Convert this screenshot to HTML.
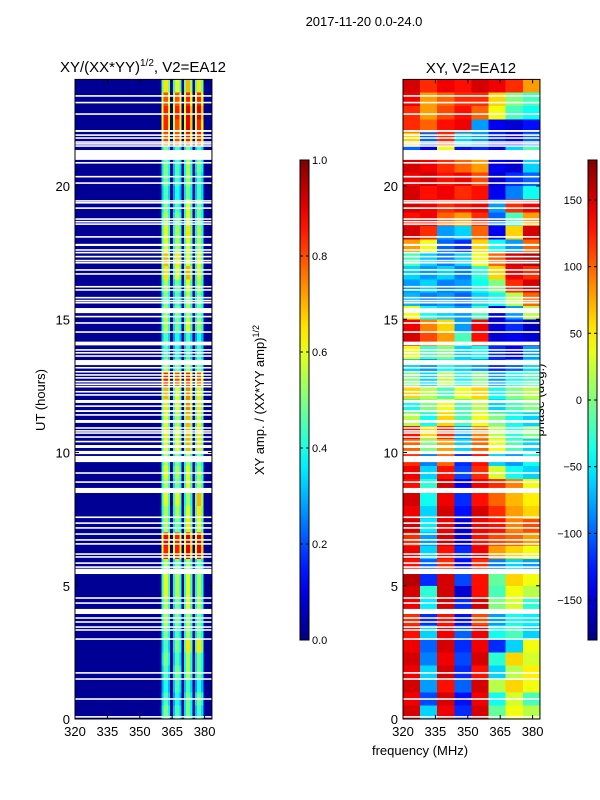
<!DOCTYPE html>
<html><head><meta charset="utf-8">
<style>
body{margin:0;background:#fff;}
svg{display:block;font-family:"Liberation Sans",sans-serif;}
</style></head>
<body>
<svg id="fig" width="600" height="800" viewBox="0 0 600 800">
<text x="364" y="26" font-size="13" text-anchor="middle">2017-11-20 0.0-24.0</text>
<text x="143" y="72" font-size="15" text-anchor="middle">XY/(XX*YY)<tspan font-size="10" dy="-6">1/2</tspan><tspan dy="6">, V2=EA12</tspan></text>
<text x="471" y="73" font-size="15" text-anchor="middle">XY, V2=EA12</text>
<text transform="translate(45,400) rotate(-90)" font-size="13" text-anchor="middle">UT (hours)</text>
<text transform="translate(264,400) rotate(-90)" font-size="13" text-anchor="middle">XY amp. / (XX*YY amp)<tspan font-size="9" dy="-5">1/2</tspan></text>
<text transform="translate(544,400) rotate(-90)" font-size="13" text-anchor="middle">phase (deg.)</text>
<text x="420" y="755" font-size="13" text-anchor="middle">frequency (MHz)</text>
<g id="left"></g>
<g id="right"></g>
<g id="cb1"></g>
<g id="cb2"></g>
</svg>
<script>
// ---- data ----
const bandEdges = [[360.1,364],[365.4,369.3],[370.4,374.3],[375.5,379.4]];
const ampRows = [
[0.5,0.45,0.5,0.45],[0.45,0.4,0.5,0.5],[0.4,0.45,0.45,0.4],[0.45,0.5,0.55,0.5],[0.5,0.45,0.55,0.5],[0.45,0.5,0.65,0.65],
[0.5,0.45,0.55,0.5],[0.55,0.5,0.55,0.5],[0.55,0.5,0.6,0.55],[0.6,0.55,0.6,0.55],[0.6,0.55,0.6,0.55],[0.55,0.5,0.55,0.5],
[0.85,0.85,0.9,0.9],[0.88,0.85,0.9,0.9],[0.55,0.5,0.65,0.6],[0.55,0.55,0.6,0.65],[0.6,0.6,0.55,0.7],[0.55,0.5,0.6,0.55],
[0.6,0.55,0.6,0.55],[0.55,0.5,0.55,0.5],[0.6,0.6,0.7,0.65],[0.65,0.6,0.7,0.65],[0.6,0.55,0.7,0.6],[0.65,0.6,0.75,0.65],
[0.7,0.6,0.75,0.65],[0.85,0.8,0.85,0.8],[0.55,0.5,0.55,0.5],[0.45,0.4,0.45,0.45],[0.45,0.4,0.45,0.4],[0.55,0.5,0.6,0.55],
[0.55,0.5,0.55,0.5],[0.5,0.45,0.55,0.5],[0.55,0.5,0.6,0.55],[0.65,0.6,0.7,0.6],[0.7,0.65,0.6,0.6],[0.6,0.55,0.6,0.55],
[0.6,0.55,0.65,0.55],[0.55,0.5,0.6,0.5],[0.5,0.45,0.6,0.5],[0.45,0.4,0.5,0.45],[0.5,0.45,0.55,0.45],[0.5,0.45,0.55,0.5],
[0.5,0.45,0.5,0.45],[0.8,0.8,0.85,0.85],[0.85,0.8,0.9,0.85],[0.85,0.85,0.9,0.9],[0.8,0.8,0.85,0.85],[0.65,0.6,0.7,0.65]
];
const phaseRows = [
[150,-60,140,-120,150,-10,40,20],[140,-110,150,-130,140,-40,30,-20],[150,-80,130,-100,150,20,60,40],[140,-60,150,-120,130,-60,20,50],
[150,-90,140,-110,150,-30,60,30],[140,-100,150,-120,140,-120,-60,40],[130,-60,140,-100,140,-40,-20,-60],[120,-120,130,-130,110,-80,-40,-50],
[140,-50,150,-120,150,0,30,-30],[150,-30,150,-150,130,-20,40,20],[160,-120,150,-110,130,-10,60,40],[130,-100,120,-130,120,-90,-60,-80],
[140,-60,130,-120,140,80,60,40],[120,-80,150,-140,130,110,100,80],[150,-50,140,-150,140,130,90,110],[140,-60,150,-130,150,120,80,60],
[150,-40,140,-120,130,100,70,50],[130,-30,150,-140,140,120,90,40],[140,-60,130,-110,120,30,-40,-60],[120,-90,100,-120,130,-60,-80,-40],
[100,0,80,-60,100,40,-20,-60],[130,60,120,-80,90,20,-30,0],[20,-40,60,-20,40,0,-40,-60],[-40,0,40,-20,20,-60,-20,0],
[60,20,-20,40,60,-40,0,20],[0,-60,20,-40,0,-80,-40,-20],[-60,-80,-40,-60,-80,-120,-100,-60],[40,-20,0,-60,-40,-120,-140,-80],
[150,110,80,-20,130,-150,-140,-150],[140,90,60,-80,140,-150,-120,-160],[40,-40,-60,-80,-20,-150,-80,20],[-70,-90,-80,-100,-60,-40,20,100],
[-80,-60,-90,-80,-40,0,120,150],[-60,-80,-60,-90,-30,60,140,120],[-20,-60,-90,-60,40,100,150,160],[80,40,-100,-120,60,-40,-80,100],
[150,120,-80,-60,100,-140,60,150],[130,140,100,80,120,-100,-20,80],[150,140,120,130,140,-80,120,140],[150,130,140,120,130,-140,-90,-40],
[140,150,130,140,110,-150,-120,-100],[150,140,120,100,80,-140,-150,-60],[-100,-140,40,-130,-120,-140,-60,-20],[60,-100,120,-60,-80,-120,-140,-100],
[120,100,130,140,-80,-140,-150,-130],[120,80,110,130,100,40,-20,-40],[140,80,100,120,120,60,0,-20],[150,120,140,130,150,140,120,80]
];
const gaps = [[23.35,23.41],[23.1,23.16],[22.67,22.73],[22.03,22.1],[21.88,21.94],[21.77,21.83],[21.62,21.68],[21.55,21.61],[21.47,21.53],
[20.98,21.35],[20.84,20.9],[20.32,20.38],[20.08,20.14],[19.41,19.47],[19.34,19.4],[19.14,19.2],[18.73,18.79],[18.63,18.69],[18.54,18.6],
[18.06,18.12],[17.75,17.83],[17.57,17.63],[17.47,17.53],[17.32,17.38],[17.17,17.23],[17.09,17.15],[16.82,16.88],[16.67,16.73],[16.19,16.25],
[16.07,16.13],[15.78,15.84],[15.67,15.73],[15.59,15.65],[15.23,15.42],[15.07,15.13],[14.83,14.89],[14.49,14.55],[14.02,14.16],[13.82,13.88],
[13.71,13.77],[13.59,13.65],[13.28,13.47],[13.15,13.21],[13.0,13.06],[12.88,12.94],[12.77,12.83],[12.63,12.69],[12.53,12.59],[12.44,12.5],
[12.25,12.31],[12.13,12.19],[11.86,11.97],[11.71,11.77],[11.52,11.59],[11.38,11.44],[11.11,11.22],[10.89,10.95],[10.78,10.84],[10.7,10.76],
[10.55,10.61],[10.38,10.44],[10.17,10.28],[9.94,10.06],[9.64,9.87],[9.2,9.26],[8.86,8.92],[8.48,8.67],[7.54,7.6],[7.32,7.38],[7.14,7.2],
[6.91,6.97],[6.69,6.75],[6.54,6.6],[6.16,6.22],[6.05,6.11],[5.82,5.88],[5.67,5.73],[5.44,5.64],[4.51,4.57],[4.32,4.38],[3.94,4.13],
[3.76,3.82],[3.61,3.67],[3.42,3.48],[3.31,3.37],[2.97,3.03],[1.7,1.76],[1.47,1.53],[0.72,0.78],[0.05,0.11]];
const xTicks = [320,335,350,365,380];
const yTicks = [0,5,10,15,20];
const ampTicks = [0.0,0.2,0.4,0.6,0.8,1.0];
const phaseTicks = [-150,-100,-50,0,50,100,150];

// ---- scales ----
const F0=320, F1=383.4, PX=2.16;
const xL = f => 75 + (f-F0)*PX;
const xR = f => 403 + (f-F0)*PX;
const yH = h => 719 - h*26.65;
const NS='http://www.w3.org/2000/svg';
function jet(v){v=Math.max(0,Math.min(1,v));const c=t=>Math.round(255*Math.max(0,Math.min(1,1.5-Math.abs(4*v-t))));return `rgb(${c(3)},${c(2)},${c(1)})`;}
function mk(tag,attrs,parent){const e=document.createElementNS(NS,tag);for(const k in attrs)e.setAttribute(k,attrs[k]);parent.appendChild(e);return e;}

const L=document.getElementById('left'), R=document.getElementById('right');
const binH = 24/ampRows.length;
ampRows.forEach((row,i)=>{
  const y0=yH((i+1)*binH), y1=yH(i*binH);
  const bg=mk('rect',{x:xL(F0),y:y0,width:xL(F1)-xL(F0),height:y1-y0,fill:jet(0.02),'shape-rendering':'crispEdges'},L);
  
  
  row.forEach((v,b)=>{
    const [lo,hi]=bandEdges[b], w=(hi-lo)/4;
    [[lo,lo+w,0.7],[lo+w,hi-w,1],[hi-w,hi,0.75]].forEach(([a,z,k])=>{
      const r=mk('rect',{x:xL(a),y:y0,width:xL(z)-xL(a),height:y1-y0,fill:jet(v*k),'shape-rendering':'crispEdges'},L);
      
      
    });
  });
});
const pBinH = 24/phaseRows.length, nC = phaseRows[0].length, fW=(F1-F0)/nC;
phaseRows.forEach((row,i)=>{
  const y0=yH((i+1)*pBinH), y1=yH(i*pBinH);
  row.forEach((v,c)=>{
    const r=mk('rect',{x:xR(F0+c*fW),y:y0,width:fW*PX+0.5,height:y1-y0,fill:jet((v+180)/360),'shape-rendering':'crispEdges'},R);
    
    
  });
});
[[L,xL],[R,xR]].forEach(([g,xs])=>{
  gaps.forEach(([a,b])=>{
    const r=mk('rect',{x:xs(F0),y:yH(b),width:xs(F1)-xs(F0),height:Math.max(1.3,yH(a)-yH(b)),fill:'#fff'},g);
    
    
  });
  const fr=mk('rect',{x:xs(F0),y:yH(24),width:xs(F1)-xs(F0),height:yH(0)-yH(24),fill:'none',stroke:'#000','stroke-width':1},g);
  
  
  xTicks.forEach(t=>{
    mk('line',{x1:xs(t),x2:xs(t),y1:yH(0),y2:yH(0)-4,stroke:'#000'},g);
    mk('line',{x1:xs(t),x2:xs(t),y1:yH(24),y2:yH(24)+4,stroke:'#000'},g);
    const tx=mk('text',{x:xs(t),y:736,'font-size':13,'text-anchor':'middle'},g);
    tx.textContent=t;
    
    
  });
  yTicks.forEach(t=>{
    mk('line',{x1:xs(F0),x2:xs(F0)+4,y1:yH(t),y2:yH(t),stroke:'#000'},g);
    mk('line',{x1:xs(F1),x2:xs(F1)-4,y1:yH(t),y2:yH(t),stroke:'#000'},g);
    const tx=mk('text',{x:xs(F0)-5,y:yH(t)+5,'font-size':13,'text-anchor':'end'},g);
    tx.textContent=t;
    
    
  });
});
// colorbars
function colorbar(g,x,id,ticks,lo,hi,labelLeft){
  const defs=mk('defs',{},g);
  const lg=mk('linearGradient',{id:id,x1:0,y1:1,x2:0,y2:0},defs);
  for(let i=0;i<=20;i++)mk('stop',{offset:(i/20),'stop-color':jet(i/20)},lg);
  const r=mk('rect',{x:x,y:160,width:9,height:480,fill:`url(#${id})`,stroke:'#000','stroke-width':1},g);
  
  
  ticks.forEach(t=>{
    const y=640-(t-lo)/(hi-lo)*480;
    mk('line',{x1:x,x2:x+3,y1:y,y2:y,stroke:'#000'},g);
    mk('line',{x1:x+9,x2:x+6,y1:y,y2:y,stroke:'#000'},g);
    const tx=mk('text',labelLeft?{x:x-6,y:y+4,'font-size':11,'text-anchor':'end'}:{x:x+12,y:y+4,'font-size':11},g);
    tx.textContent=(lo===0?t.toFixed(1):String(t).replace('-','\u2212'));
    
    
  });
}
colorbar(document.getElementById('cb1'),300,'g1',ampTicks,0,1,false);
colorbar(document.getElementById('cb2'),588,'g2',phaseTicks,-180,180,true);
</script>
</body></html>
